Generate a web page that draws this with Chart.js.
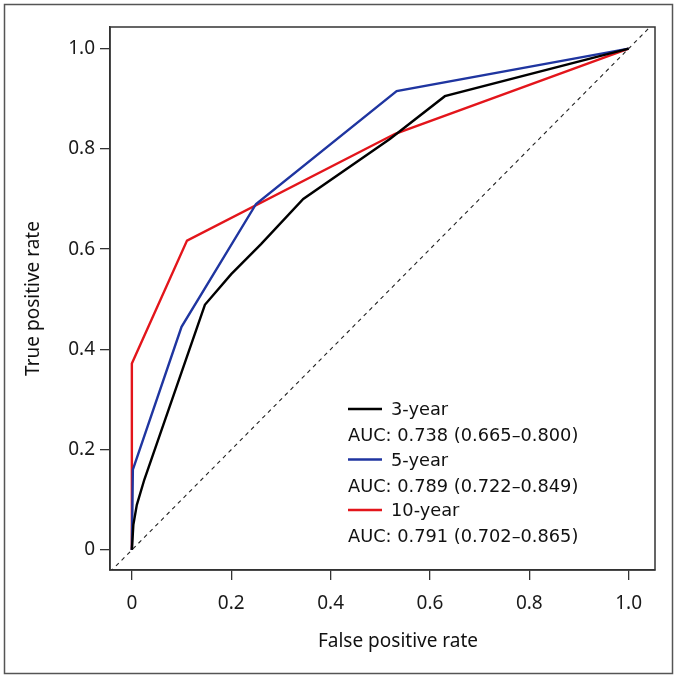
<!DOCTYPE html>
<html>
<head>
<meta charset="utf-8">
<script src="https://cdn.jsdelivr.net/npm/chart.js@4.4.1/dist/chart.umd.min.js"></script>
<style>
  html, body { margin: 0; padding: 0; background: #fff; }
  #wrap { width: 677px; height: 678px; }
</style>
</head>
<body>
<div id="wrap"><canvas id="rocChart" width="677" height="678"></canvas></div>
<script>
// ROC curves
const fpr3 = [0, 0.003, 0.01, 0.025, 0.147, 0.2, 0.26, 0.345, 0.52, 0.63, 1];
const tpr3 = [0, 0.05, 0.09, 0.14, 0.489, 0.55, 0.61, 0.70, 0.82, 0.905, 1];
const fpr5 = [0, 0.002, 0.10, 0.25, 0.533, 1];
const tpr5 = [0, 0.16, 0.445, 0.69, 0.915, 1];
const fpr10 = [0, 0, 0.111, 0.53, 1];
const tpr10 = [0, 0.372, 0.617, 0.83, 1];
const refLine = [-0.1, 1.1];

const seriesNames = ['3-year', '5-year', '10-year'];
const aucLabels = ['AUC: 0.738 (0.665\u20130.800)', 'AUC: 0.789 (0.722\u20130.849)', 'AUC: 0.791 (0.702\u20130.865)'];
const seriesColors = ['#000000', '#1f35a0', '#e3151b'];
const tickValues = [0, 0.2, 0.4, 0.6, 0.8, 1.0];
const xTitle = 'False positive rate';
const yTitle = 'True positive rate';

const FONT = '"Noto Sans", "Open Sans", sans-serif';
const LEGEND_FONT = '"DejaVu Sans", sans-serif';

function toPoints(xs, ys) {
    return xs.map((x, i) => ({ x: x, y: ys[i] }));
}

function curve(label, xs, ys, color) {
    return {
        label: label,
        data: toPoints(xs, ys),
        borderColor: color,
        backgroundColor: color,
        borderWidth: 2.4,
        showLine: true,
        pointRadius: 0,
        tension: 0
    };
}

const frame = {
    id: 'frame',
    beforeDraw(chart) {
        const ctx = chart.ctx;
        ctx.save();
        ctx.strokeStyle = '#555';
        ctx.lineWidth = 1.5;
        ctx.strokeRect(4.5, 4.5, 668, 669);
        ctx.restore();
    },
    afterDraw(chart) {
        const ctx = chart.ctx;
        const a = chart.chartArea;
        ctx.save();
        ctx.strokeStyle = '#333';
        ctx.lineWidth = 1.5;
        ctx.strokeRect(a.left, a.top, a.right - a.left, a.bottom - a.top);

        // axis titles
        ctx.fillStyle = '#111';
        ctx.font = '19px ' + FONT;
        ctx.textAlign = 'center';
        ctx.textBaseline = 'middle';
        ctx.fillText(xTitle, 398, 642);
        ctx.translate(34, (a.top + a.bottom) / 2);
        ctx.rotate(-Math.PI / 2);
        ctx.fillText(yTitle, 0, 0);
        ctx.restore();

        // legend
        ctx.save();
        ctx.font = '17.8px ' + LEGEND_FONT;
        ctx.textAlign = 'left';
        ctx.textBaseline = 'alphabetic';
        const x0 = 348;
        let base = 415;
        seriesNames.forEach((name, i) => {
            ctx.strokeStyle = seriesColors[i];
            ctx.lineWidth = 2.5;
            ctx.beginPath();
            ctx.moveTo(x0, base - 6);
            ctx.lineTo(x0 + 34, base - 6);
            ctx.stroke();
            ctx.fillStyle = '#111';
            ctx.fillText(name, x0 + 43, base);
            ctx.fillText(aucLabels[i], x0, base + 26);
            base += 50.5;
        });
        ctx.restore();
    }
};

function axisOpts(min, max, isX) {
    return {
        type: 'linear',
        min: min,
        max: max,
        afterBuildTicks: (scale) => {
            scale.ticks = tickValues.map(v => ({ value: v }));
        },
        afterFit: (scale) => {
            if (isX) scale.height = 108; else scale.width = 110;
        },
        ticks: {
            autoSkip: false,
            maxRotation: 0,
            padding: isX ? 12 : 5,
            color: '#1a1a1a',
            font: { family: FONT, size: 19 },
            callback: (v) => v === 0 ? '0' : v.toFixed(1)
        },
        grid: {
            display: true,
            drawOnChartArea: false,
            drawTicks: true,
            tickLength: 10,
            color: '#333',
            lineWidth: 1.3
        },
        border: { display: true, color: '#333', width: 1.5 }
    };
}

new Chart(document.getElementById('rocChart').getContext('2d'), {
    type: 'scatter',
    data: {
        datasets: [
            {
                label: 'reference',
                data: toPoints(refLine, refLine),
                borderColor: '#222',
                borderWidth: 1.1,
                borderDash: [4, 4],
                showLine: true,
                pointRadius: 0
            },
            curve(seriesNames[0], fpr3, tpr3, seriesColors[0]),
            curve(seriesNames[1], fpr5, tpr5, seriesColors[1]),
            curve(seriesNames[2], fpr10, tpr10, seriesColors[2])
        ]
    },
    options: {
        responsive: false,
        devicePixelRatio: 1,
        animation: false,
        layout: { padding: { top: 27, right: 22, left: 0, bottom: 0 } },
        plugins: {
            legend: { display: false },
            tooltip: { enabled: false }
        },
        scales: {
            x: axisOpts(-0.044, 1.053, true),
            y: axisOpts(-0.04, 1.043, false)
        }
    },
    plugins: [frame]
});
</script>
</body>
</html>
